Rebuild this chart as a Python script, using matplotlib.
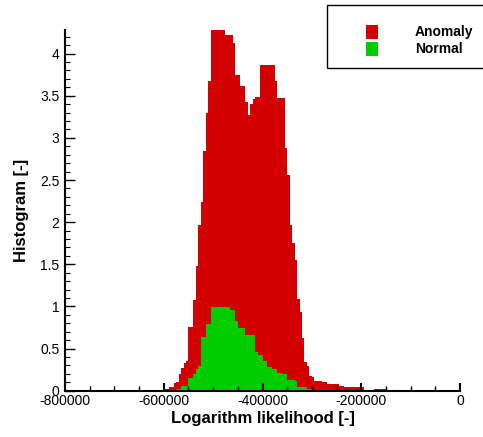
import numpy as np
import matplotlib
matplotlib.use("Agg")
import matplotlib.pyplot as plt
from matplotlib.patches import Rectangle
from matplotlib.ticker import MultipleLocator, FuncFormatter

plt.rcParams["font.family"] = ["Liberation Sans", "DejaVu Sans"]
plt.rcParams["axes.unicode_minus"] = False

# Histogram bins (log-likelihood), shared by both classes
bin_start = -640000
bin_width = 5000

series_names = ["Anomaly", "Normal"]
series_colors = ["#d20000", "#00cc00"]

anomaly_hist = [
    0.01, 0.01, 0.01, 0.01, 0.01, 0.01, 0.01, 0.01,
    0.02, 0.02, 0.047, 0.047, 0.088, 0.107, 0.198, 0.265, 0.33, 0.352,
    0.75, 0.75, 1.075, 1.48, 1.965, 2.24, 2.85, 3.30, 3.68,
    4.28, 4.28, 4.28, 4.28, 4.28, 4.28,
    4.22, 4.22, 4.22, 4.12, 3.75, 3.75, 3.62, 3.62,
    3.42, 3.27, 3.40, 3.46, 3.48, 3.48,
    3.87, 3.87, 3.87, 3.87, 3.87, 3.87,
    3.68, 3.47, 3.47, 3.47, 2.885, 2.56, 1.965, 1.75, 1.55, 1.09,
    0.93, 0.62, 0.34, 0.293, 0.17, 0.159,
    0.115, 0.115, 0.115, 0.103, 0.103,
    0.079, 0.079, 0.079, 0.079, 0.079, 0.056, 0.056,
    0.044, 0.044, 0.044, 0.044, 0.044, 0.044, 0.044, 0.044,
    0.005, 0.005, 0.005, 0.005,
    0.02, 0.02, 0.02, 0.02, 0.02,
]

normal_hist = [
    0, 0, 0, 0, 0, 0, 0, 0, 0, 0, 0, 0, 0,
    0.02, 0.02, 0.056, 0.056, 0.056, 0.154, 0.154, 0.198, 0.257, 0.293,
    0.637, 0.637, 0.79, 0.79,
    0.99, 0.99, 0.99, 0.99, 0.99, 0.99, 0.99, 0.99,
    0.957, 0.957, 0.826, 0.743, 0.743, 0.743,
    0.66, 0.66, 0.66, 0.66, 0.459, 0.423, 0.423, 0.352, 0.352,
    0.28, 0.28, 0.257, 0.257, 0.215, 0.215, 0.198, 0.198,
    0.127, 0.127, 0.127, 0.115, 0.044, 0.044, 0.044, 0.044, 0.02, 0.02,
    0.006, 0.006, 0.006, 0.006, 0.006, 0.006, 0.006, 0.006, 0.006, 0.006,
    0.006, 0.006, 0.006, 0.006, 0.006, 0.006, 0.006, 0.006, 0.006, 0.006,
    0.006,
    0, 0, 0, 0, 0, 0, 0, 0, 0,
]

x_limits = (-800000, 0)
y_limits = (0, 4.28)

edges = bin_start + bin_width * np.arange(len(anomaly_hist) + 1)

W, H = 483, 437
fig = plt.figure(figsize=(W / 100, H / 100), dpi=100)
ax = fig.add_axes([65 / W, 1 - 390.7 / H, 395 / W, (390.7 - 30) / H])

for vals, color in zip([anomaly_hist, normal_hist], series_colors):
    ax.stairs(vals, edges, fill=True, color=color, linewidth=0, antialiased=False)

ax.set_xlim(*x_limits)
ax.set_ylim(*y_limits)

for side in ("top", "right"):
    ax.spines[side].set_visible(False)
for side in ("left", "bottom"):
    ax.spines[side].set_linewidth(1.5)
    ax.spines[side].set_color("black")

ax.xaxis.set_major_locator(MultipleLocator(200000))
ax.xaxis.set_minor_locator(MultipleLocator(50000))
ax.yaxis.set_major_locator(MultipleLocator(0.5))
ax.yaxis.set_minor_locator(MultipleLocator(0.1))
ax.xaxis.set_major_formatter(FuncFormatter(lambda v, p: "%d" % round(v)))
ax.yaxis.set_major_formatter(FuncFormatter(lambda v, p: "%g" % v))

ax.tick_params(axis="x", which="major", direction="in", length=6, width=1.5,
               labelsize=10, pad=2.5)
ax.tick_params(axis="x", which="minor", direction="in", length=3.8, width=1.0)
ax.tick_params(axis="y", which="major", direction="in", length=7, width=1.0,
               labelsize=10, pad=4)
ax.tick_params(axis="y", which="minor", direction="in", length=3.6, width=0.8)

ax.set_xlabel("Logarithm likelihood [-]", fontsize=12, fontweight="bold")
ax.xaxis.set_label_coords(0.5, -(418 - 390.7) / 360.7)
ax.xaxis.label.set_va("center")
ax.set_ylabel("Histogram [-]", fontsize=12, fontweight="bold")
ax.yaxis.set_label_coords((21.5 - 65) / 395, 0.5)
ax.yaxis.label.set_va("center")

# Legend box drawn in figure pixels
def px(x, y):
    return x / W, 1 - y / H

x0, y0 = px(327, 68)
fig.patches.append(Rectangle((x0, y0), (W + 5 - 327) / W, 63 / H,
                             transform=fig.transFigure, facecolor="white",
                             edgecolor="black", linewidth=1.0, clip_on=False))
for name, color, top, base in zip(series_names, series_colors, [25, 42], [36, 53.3]):
    sx, sy = px(366, top + 14)
    fig.patches.append(Rectangle((sx, sy), 12 / W, 14 / H, transform=fig.transFigure,
                                 facecolor=color, edgecolor="none"))
    tx, ty = px(415, base)
    fig.text(tx, ty, name, fontsize=10, fontweight="bold", va="baseline", ha="left")

fig.savefig("out.png", dpi=100)
